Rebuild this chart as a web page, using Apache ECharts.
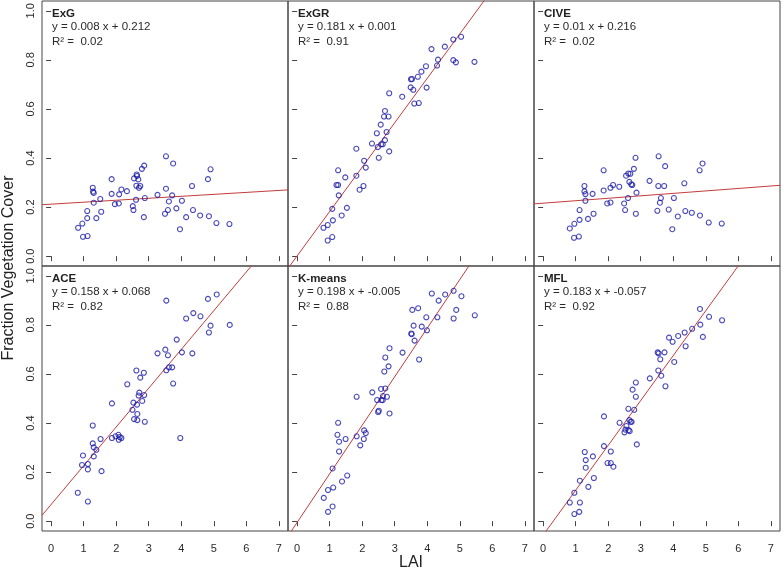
<!DOCTYPE html>
<html>
<head>
<meta charset="utf-8">
<script src="https://cdn.jsdelivr.net/npm/echarts@6/dist/echarts.min.js"></script>
<style>
html,body{margin:0;padding:0;background:#fff;}
#chart{width:784px;height:571px;}
</style>
</head>
<body>
<div id="chart"></div>
<script>
const xTicks = [0, 1, 2, 3, 4, 5, 6, 7];
const yTicks = [0, 0.2, 0.4, 0.6, 0.8, 1.0];
const panelNames = ['ExG', 'ExGR', 'CIVE', 'ACE', 'K-means', 'MFL'];
const slopes = [0.008, 0.181, 0.01, 0.158, 0.198, 0.183];
const intercepts = [0.212, 0.001, 0.216, 0.068, -0.005, -0.057];
const eqLabels = ['y = 0.008 x + 0.212', 'y = 0.181 x + 0.001', 'y = 0.01 x + 0.216',
                  'y = 0.158 x + 0.068', 'y = 0.198 x + -0.005', 'y = 0.183 x + -0.057'];
const r2Labels = ['0.02', '0.91', '0.02', '0.82', '0.88', '0.92'];
const xLabel = 'LAI';
const yLabel = 'Fraction Vegetation Cover';

const exgLAI = [0.83,0.96,0.98,1.12,1.11,1.11,1.28,1.29,1.31,1.31,1.39,1.51,1.54,1.86,1.86,1.96,2.08,2.09,2.16,2.33,2.51,2.53,2.55,2.61,2.62,2.63,2.64,2.68,2.70,2.74,2.79,2.86,2.85,2.88,3.27,3.50,3.53,3.53,3.59,3.62,3.72,3.75,3.85,3.96,4.02,4.15,4.33,4.36,4.58,4.82,4.85,4.90,5.08,5.48];
const exgFVC = [0.116,0.133,0.079,0.082,0.184,0.155,0.279,0.263,0.258,0.218,0.155,0.233,0.181,0.314,0.254,0.212,0.215,0.252,0.272,0.265,0.204,0.188,0.317,0.230,0.287,0.333,0.327,0.313,0.279,0.286,0.356,0.369,0.159,0.237,0.250,0.173,0.275,0.407,0.188,0.223,0.248,0.378,0.195,0.110,0.226,0.159,0.286,0.188,0.166,0.314,0.163,0.354,0.135,0.131];

const exgrLAI = [0.81,0.94,0.94,1.08,1.10,1.08,1.26,1.21,1.26,1.28,1.37,1.48,1.53,1.82,1.82,1.92,2.04,2.06,2.11,2.30,2.45,2.48,2.51,2.57,2.58,2.63,2.67,2.70,2.70,2.75,2.81,2.83,2.83,3.23,3.49,3.50,3.53,3.57,3.60,3.71,3.74,3.82,3.96,3.98,4.13,4.30,4.33,4.54,4.80,4.80,4.88,5.04,5.45];
const exgrFVC = [0.116,0.127,0.064,0.078,0.146,0.193,0.350,0.290,0.290,0.248,0.166,0.321,0.197,0.438,0.328,0.271,0.286,0.389,0.361,0.459,0.501,0.445,0.401,0.536,0.456,0.456,0.569,0.592,0.473,0.506,0.569,0.664,0.427,0.650,0.688,0.721,0.722,0.678,0.622,0.731,0.624,0.752,0.774,0.687,0.844,0.777,0.801,0.854,0.883,0.799,0.790,0.894,0.792];

const civeLAI = [0.82,0.96,0.95,1.10,1.12,1.12,1.27,1.27,1.30,1.30,1.38,1.52,1.55,1.86,1.86,1.97,2.07,2.07,2.15,2.34,2.49,2.52,2.55,2.61,2.62,2.65,2.68,2.71,2.74,2.79,2.84,2.85,2.87,3.27,3.51,3.54,3.55,3.59,3.62,3.72,3.75,3.86,3.97,4.02,4.14,4.34,4.37,4.57,4.81,4.82,4.90,5.09,5.49];
const civeFVC = [0.113,0.132,0.075,0.080,0.148,0.188,0.286,0.264,0.253,0.226,0.152,0.254,0.173,0.350,0.268,0.215,0.219,0.279,0.290,0.283,0.215,0.188,0.328,0.237,0.337,0.303,0.336,0.293,0.290,0.356,0.401,0.173,0.259,0.307,0.185,0.286,0.407,0.218,0.237,0.286,0.367,0.190,0.110,0.237,0.162,0.297,0.184,0.177,0.350,0.166,0.378,0.137,0.133];

const aceLAI = [0.82,1.13,0.95,0.98,1.13,1.13,1.28,1.28,1.31,1.31,1.39,1.52,1.55,1.87,1.87,1.98,2.07,2.08,2.11,2.16,2.34,2.50,2.53,2.55,2.62,2.64,2.65,2.65,2.69,2.71,2.74,2.80,2.85,2.86,2.88,3.27,3.51,3.54,3.54,3.59,3.62,3.72,3.75,3.86,3.97,4.02,4.15,4.34,4.37,4.59,4.82,4.85,4.90,5.09,5.49];
const aceFVC = [0.116,0.080,0.229,0.268,0.233,0.211,0.390,0.317,0.301,0.264,0.291,0.335,0.204,0.480,0.339,0.346,0.352,0.332,0.343,0.339,0.558,0.454,0.483,0.416,0.614,0.475,0.437,0.412,0.512,0.524,0.585,0.490,0.605,0.514,0.405,0.684,0.699,0.899,0.615,0.676,0.627,0.627,0.561,0.740,0.339,0.688,0.826,0.684,0.848,0.835,0.906,0.769,0.797,0.924,0.800];

const kmLAI = [0.82,0.95,0.95,1.09,1.11,1.09,1.26,1.24,1.29,1.29,1.38,1.49,1.54,1.83,1.83,1.94,2.05,2.06,2.11,2.31,2.46,2.49,2.51,2.58,2.59,2.63,2.64,2.68,2.71,2.71,2.76,2.81,2.84,2.84,3.24,3.51,3.52,3.54,3.58,3.61,3.72,3.75,3.83,3.97,3.99,4.14,4.31,4.35,4.55,4.81,4.81,4.89,5.05,5.46];
const kmFVC = [0.095,0.038,0.127,0.060,0.137,0.215,0.401,0.352,0.324,0.284,0.162,0.335,0.186,0.507,0.346,0.309,0.335,0.370,0.359,0.525,0.494,0.445,0.450,0.539,0.494,0.493,0.510,0.610,0.667,0.541,0.507,0.631,0.705,0.439,0.687,0.765,0.762,0.861,0.797,0.736,0.868,0.659,0.793,0.831,0.778,0.928,0.831,0.899,0.924,0.939,0.826,0.861,0.917,0.839];

const mflLAI = [0.82,0.96,0.96,1.11,1.13,1.13,1.28,1.31,1.31,1.39,1.53,1.56,1.87,1.87,1.98,2.08,2.08,2.16,2.35,2.50,2.53,2.56,2.62,2.63,2.65,2.66,2.69,2.72,2.75,2.80,2.85,2.85,2.88,3.28,3.54,3.52,3.55,3.60,3.63,3.73,3.76,3.87,3.98,4.03,4.15,4.35,4.38,4.58,4.82,4.83,4.91,5.10,5.50];
const mflFVC = [0.076,0.116,0.029,0.038,0.076,0.165,0.282,0.249,0.218,0.140,0.264,0.176,0.427,0.306,0.237,0.237,0.284,0.222,0.401,0.362,0.373,0.388,0.458,0.371,0.412,0.367,0.405,0.405,0.536,0.454,0.565,0.507,0.313,0.582,0.614,0.688,0.684,0.660,0.593,0.688,0.550,0.748,0.731,0.649,0.755,0.769,0.713,0.784,0.865,0.801,0.751,0.833,0.819];

const panelX = [exgLAI, exgrLAI, civeLAI, aceLAI, kmLAI, mflLAI];
const panelY = [exgFVC, exgrFVC, civeFVC, aceFVC, kmFVC, mflFVC];

const X_MIN = -0.28, X_MAX = 7.28, Y_MIN = -0.04, Y_MAX = 1.04;
const lefts = [42, 288, 534];
const tops = [1, 266];
const W = 246, H = 265;
const FONT = "'Liberation Sans', Arial, sans-serif";
const AXIS_COLOR = '#444';
const TEXT_COLOR = '#2a2a2a';

const grids = [], xAxes = [], yAxes = [], series = [], graphics = [];
for (let i = 0; i < 6; i++) {
  const row = Math.floor(i / 3), col = i % 3;
  grids.push({left: lefts[col], top: tops[row], width: W, height: H,
    show: true, borderColor: AXIS_COLOR, borderWidth: 1, backgroundColor: 'transparent'});
  xAxes.push({type: 'value', gridIndex: i, min: X_MIN, max: X_MAX,
    axisLine: {show: false}, splitLine: {show: false},
    axisTick: {show: true, inside: false, length: 5, customValues: xTicks, lineStyle: {color: AXIS_COLOR}},
    axisLabel: {show: row === 1, customValues: xTicks, fontSize: 11, color: TEXT_COLOR, fontFamily: FONT, margin: 12}
  });
  yAxes.push({type: 'value', gridIndex: i, min: Y_MIN, max: Y_MAX,
    axisLine: {show: false}, splitLine: {show: false},
    axisTick: {show: true, inside: false, length: 5, customValues: yTicks, lineStyle: {color: AXIS_COLOR}},
    axisLabel: {show: col === 0, customValues: yTicks, rotate: 90, fontSize: 11, color: TEXT_COLOR,
      fontFamily: FONT, margin: 6, formatter: v => Number(v).toFixed(1)}
  });
  const pts = panelX[i].map((x, k) => [x, panelY[i][k]]);
  series.push({type: 'scatter', xAxisIndex: i, yAxisIndex: i, data: pts, symbol: 'circle', symbolSize: 5,
    itemStyle: {color: 'rgba(0,0,0,0)', borderColor: '#1c1caa', borderWidth: 1.1}, silent: true, z: 3});
  series.push({type: 'line', xAxisIndex: i, yAxisIndex: i, clip: true, symbol: 'none', silent: true,
    data: [[X_MIN, intercepts[i] + slopes[i] * X_MIN], [X_MAX, intercepts[i] + slopes[i] * X_MAX]],
    lineStyle: {color: '#c43c3c', width: 1}, z: 2});
  const tx = lefts[col] + 10, ty = tops[row];
  graphics.push({type: 'text', x: tx, y: ty + 13, style: {text: panelNames[i], font: 'bold 11.5px ' + FONT, fill: '#222', verticalAlign: 'middle'}});
  graphics.push({type: 'text', x: tx, y: ty + 26, style: {text: eqLabels[i], font: '11.5px ' + FONT, fill: TEXT_COLOR, verticalAlign: 'middle'}});
  graphics.push({type: 'text', x: tx, y: ty + 41, style: {text: 'R\u00B2 =  ' + r2Labels[i], font: '11.5px ' + FONT, fill: TEXT_COLOR, verticalAlign: 'middle'}});
}
graphics.push({type: 'text', x: 411, y: 563, style: {text: xLabel, font: '16px ' + FONT, fill: '#222', align: 'center', verticalAlign: 'middle'}});
graphics.push({type: 'text', x: 9, y: 268, rotation: Math.PI / 2, style: {text: yLabel, font: '16px ' + FONT, fill: '#222', align: 'center', verticalAlign: 'middle'}});

const chart = echarts.init(document.getElementById('chart'), null, {renderer: 'canvas'});
chart.setOption({
  animation: false,
  backgroundColor: '#fff',
  grid: grids, xAxis: xAxes, yAxis: yAxes, series: series, graphic: graphics
});
</script>
</body>
</html>
